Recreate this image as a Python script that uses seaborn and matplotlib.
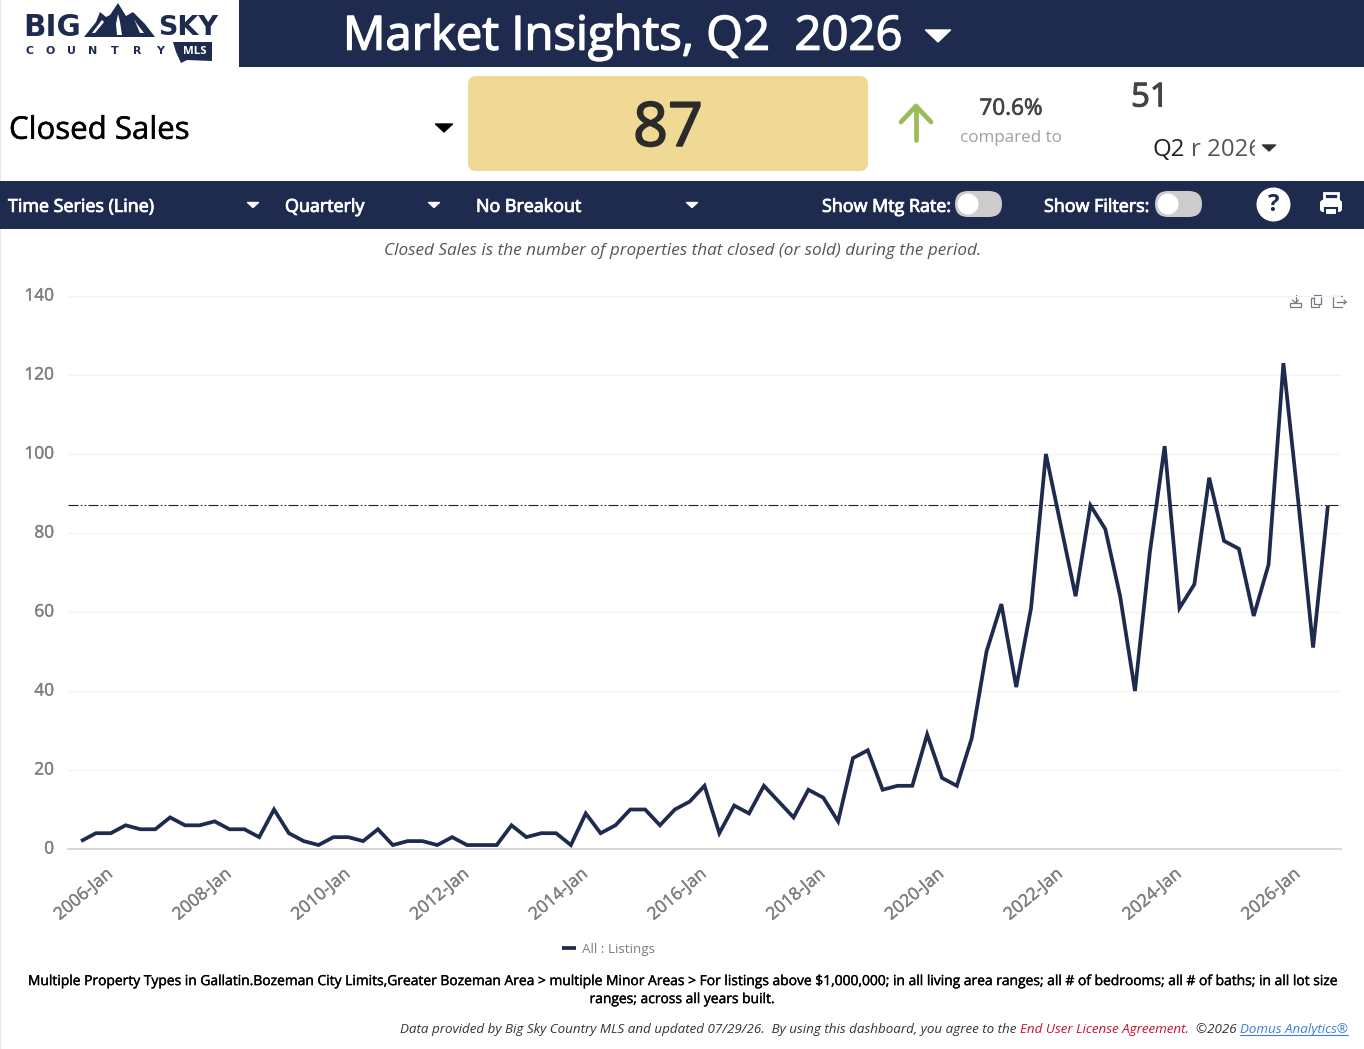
import matplotlib
matplotlib.use("Agg")
import matplotlib.pyplot as plt
import matplotlib.patheffects as pe
from matplotlib.patches import Rectangle, FancyBboxPatch, Polygon, Circle
from matplotlib.transforms import ScaledTranslation
import pandas as pd
import seaborn as sns

# ---- data ----
quarter_labels = [f"{y}-{m}" for y in range(2005, 2027) for m in ("Jan", "Apr", "Jul", "Oct")][1:86]
closed_sales = [2, 4, 4, 6, 5, 5, 8, 6, 6, 7,
                5, 5, 3, 10, 4, 2, 1, 3, 3, 2,
                5, 1, 2, 2, 1, 3, 1, 1, 1, 6,
                3, 4, 4, 1, 9, 4, 6, 10, 10, 6,
                10, 12, 16, 4, 11, 9, 16, 12, 8, 15,
                13, 7, 23, 25, 15, 16, 16, 29, 18, 16,
                28, 50, 62, 41, 61, 100, 82, 64, 87, 81,
                64, 40, 75, 102, 61, 67, 94, 78, 76, 59,
                72, 123, 88, 51, 87]
tick_labels = ["2006-Jan", "2008-Jan", "2010-Jan", "2012-Jan", "2014-Jan", "2016-Jan",
               "2018-Jan", "2020-Jan", "2022-Jan", "2024-Jan", "2026-Jan"]
y_ticks = [0, 20, 40, 60, 80, 100, 120, 140]
current_value = 87
prior_value = 51
pct_change = "70.6%"
series_name = "All : Listings"

NAVY = "#1E2B4F"
W, H = 1364, 1049

sns.set_theme(style="white")
plt.rcParams["font.family"] = ["Open Sans", "DejaVu Sans"]

fig = plt.figure(figsize=(W / 100, H / 100), dpi=100, facecolor="white")

# ---- page furniture, in pixel coordinates ----
ui = fig.add_axes([0, 0, 1, 1], zorder=0)
ui.set_xlim(0, W)
ui.set_ylim(H, 0)
ui.axis("off")


def T(x, y, s, size, color="black", ha="left", va="center", stroke=0, **kw):
    t = ui.text(x, y + 0.6 + size * 0.07, s, fontsize=size * 0.72, color=color, ha=ha, va=va, **kw)
    if stroke:
        t.set_path_effects([pe.withStroke(linewidth=stroke, foreground=color)])
    return t


def tri(x, y, w, h, color):
    ui.add_patch(Polygon([(x - w / 2, y - h / 2), (x + w / 2, y - h / 2), (x, y + h / 2)],
                         closed=True, fc=color, ec=color, lw=1, joinstyle="round"))


def toggle(x, y):
    ui.add_patch(FancyBboxPatch((x, y), 47, 26, boxstyle="round,pad=0,rounding_size=13",
                                fc="#CCCCCC", ec="none", mutation_aspect=1))
    ui.add_patch(Circle((x + 13, y + 13), 10.5, fc="white", ec="none"))


ui.add_patch(Rectangle((0, 0), 1, H, fc="#E6E9EE", ec="none"))
ui.add_patch(Rectangle((239, 0), W - 239, 66.5, fc=NAVY, ec="none"))
ui.add_patch(Rectangle((0, 181), W, 47.5, fc=NAVY, ec="none"))

# logo
ui.text(52, 28, "BIG", fontsize=29.5 * 0.72, color=NAVY, ha="center", va="center", weight="bold", family="DejaVu Sans")
ui.text(188.5, 28, "SKY", fontsize=27 * 0.72, color=NAVY, ha="center", va="center", weight="bold", family="DejaVu Sans")
ui.add_patch(Polygon([(84, 37), (96, 22), (100, 12), (106, 17), (110, 15), (118, 3), (126, 16), (133, 12), (145, 24), (155, 37)],
                     closed=True, fc=NAVY, ec="none"))
for streak in ([(118, 14), (120, 22), (122, 35), (117, 35), (116, 24)],
               [(102, 20), (104, 22), (95, 33), (92, 33)],
               [(134, 19), (137, 24), (144, 33), (140, 33)]):
    ui.add_patch(Polygon(streak, closed=True, fc="white", ec="none"))
for lx, ch in zip([29, 50, 71, 93, 115, 137, 160], "COUNTRY"):
    ui.text(lx, 51, ch, fontsize=11 * 0.72, color=NAVY, ha="center", va="center", weight="bold", family="DejaVu Sans")
ui.add_patch(Polygon([(173, 42), (212, 42), (212, 61), (187, 60), (181, 63), (176, 52)], closed=True, fc=NAVY, ec="none"))
T(195, 50.5, "MLS", 11.5, "white", ha="center", weight="bold")

# header
T(343, 33, "Market Insights, Q2  2026", 47.2, "white", stroke=1.0)
tri(938, 36, 25, 12, "white")

# KPI row
T(9, 128, "Closed Sales", 31.2, "black", stroke=0.35)
tri(444, 128, 17, 8, "black")
ui.add_patch(FancyBboxPatch((468, 76), 400, 95, boxstyle="round,pad=0,rounding_size=8",
                            fc="#F0D895", ec="none"))
T(668, 125, str(current_value), 61, "#2B2B2B", ha="center", stroke=1.2)
ui.plot([916, 916], [140, 107], color="#9BBB59", lw=3.4, solid_capstyle="round")
ui.plot([901, 916, 931], [122, 106, 122], color="#9BBB59", lw=3.4, solid_capstyle="round", solid_joinstyle="round")
T(1011, 107, pct_change, 22.5, "#444444", ha="center", stroke=0.5)
T(1011, 136, "compared to", 17, "#A0A0A0", ha="center")
T(1131, 95, str(prior_value), 33, "#444444", stroke=0.8)
T(1152, 148, "Q2", 24, "#222222")
clip = Rectangle((1180, 130), 75, 36, transform=ui.transData)
t = T(1191, 148, "r 2026", 24, "#555555", clip_on=True)
t.set_clip_path(clip)
tri(1269, 148, 13, 6, "#333333")

# control bar
T(8, 205, "Time Series (Line)", 17.9, "white", stroke=0.6)
tri(253, 205, 11, 5, "white")
T(285, 205, "Quarterly", 17.9, "white", stroke=0.6)
tri(434, 205, 11, 5, "white")
T(476, 205, "No Breakout", 17.9, "white", stroke=0.6)
tri(692, 205, 11, 5, "white")
T(822, 205, "Show Mtg Rate:", 17.9, "white", stroke=0.6)
toggle(955, 191)
T(1044, 205, "Show Filters:", 17.9, "white", stroke=0.6)
toggle(1155, 191)
ui.add_patch(Circle((1273.5, 204.5), 17, fc="white", ec="none"))
T(1273.5, 203, "?", 24, NAVY, ha="center", weight="bold")
ui.add_patch(FancyBboxPatch((1320, 200), 22, 12, boxstyle="round,pad=0,rounding_size=3", fc="white", ec="none"))
ui.add_patch(Rectangle((1324, 193), 14, 6, fc="none", ec="white", lw=2))
ui.add_patch(Rectangle((1325, 208), 12, 7, fc="white", ec=NAVY, lw=1.5))

T(683, 249, "Closed Sales is the number of properties that closed (or sold) during the period.",
  17.1, "#555555", ha="center", style="italic")

# toolbar icons
ic = "#6E7B8B"
ui.plot([1295.5, 1295.5], [295, 303], color=ic, lw=0.9)
ui.plot([1292.5, 1295.5, 1298.5], [300, 303, 300], color=ic, lw=0.9)
ui.add_patch(Rectangle((1290, 303), 11, 4, fc="none", ec=ic, lw=0.9))
ui.add_patch(Rectangle((1311, 298), 8, 9, fc="white", ec=ic, lw=0.9))
ui.add_patch(Rectangle((1314, 295), 7, 9, fc="white", ec=ic, lw=0.9))
ui.plot([1342, 1333, 1333, 1342], [296, 296, 307, 307], color=ic, lw=0.9)
ui.plot([1337, 1346], [302, 302], color=ic, lw=0.9)
ui.plot([1344, 1346, 1344], [300, 302, 304], color=ic, lw=0.9)

# footnotes
T(686, 980, "Multiple Property Types in Gallatin.Bozeman City Limits,Greater Bozeman Area > multiple Minor Areas > "
            "For listings above $1,000,000; in all living area ranges; all # of bedrooms; all # of baths; in all lot size",
  13.84, "black", ha="center", stroke=0.25)
T(682.5, 998, "ranges; across all years built.", 13.84, "black", ha="center", stroke=0.25)

pieces = [("Domus Analytics®", "#3B7DDD"), ("  ©2026 ", "#333333"),
          ("End User License Agreement.", "#C8102E"),
          ("Data provided by Big Sky Country MLS and updated 07/29/26.  By using this dashboard, you agree to the ", "#333333")]
fig.canvas.draw()
renderer = fig.canvas.get_renderer()
right = 1348
for s, c in pieces:
    tt = T(right, 1028, s, 13.42, c, ha="right", style="italic")
    bb = tt.get_window_extent(renderer)
    if s.startswith("Domus"):
        ui.plot([bb.x0, bb.x1], [1034.5, 1034.5], color=c, lw=0.8)
    right -= bb.width

# ---- chart ----
ax_left, ax_right, ax_top, ax_bottom = 68, 1341, 296, 849
ax = fig.add_axes([ax_left / W, 1 - ax_bottom / H, (ax_right - ax_left) / W, (ax_bottom - ax_top) / H], zorder=1)
ax.patch.set_alpha(0)
df = pd.DataFrame({"quarter": quarter_labels, "closed": closed_sales})
sns.lineplot(data=df, x="quarter", y="closed", sort=False, color=NAVY, linewidth=2.7,
             label=series_name, ax=ax, solid_joinstyle="miter", solid_capstyle="butt")
ax.set_xlim(-0.88, 84.88)
ax.set_ylim(0, 140)
ax.axhline(current_value, color="#222222", lw=0.8, linestyle=(0, (9, 2, 1.5, 2, 1.5, 2)), zorder=1.5)
ax.set_yticks(y_ticks)
ax.set_yticklabels([str(v) for v in y_ticks])
ax.set_xticks(tick_labels)
ax.set_xticklabels(tick_labels)
ax.set_xlabel("")
ax.set_ylabel("")
ax.grid(axis="y", color="#F4F4F4", lw=1)
ax.grid(axis="x", visible=False)
ax.set_axisbelow(True)
for side in ("top", "left", "right"):
    ax.spines[side].set_visible(False)
ax.spines["bottom"].set_color("#D4D4D4")
ax.spines["bottom"].set_linewidth(1.3)
ax.tick_params(axis="y", length=0, pad=10, labelsize=12.4, labelcolor="#7F7F7F")
ax.tick_params(axis="x", length=0, pad=0, labelsize=12.5, labelcolor="#7F7F7F")
weight = [pe.withStroke(linewidth=0.3, foreground="#7F7F7F")]
y_off = ScaledTranslation(0, 1.5 / 100, fig.dpi_scale_trans)
for lab in ax.get_yticklabels():
    lab.set_transform(lab.get_transform() + y_off)
    lab.set_path_effects(weight)
off = ScaledTranslation(-19.5 / 100, -17 / 100, fig.dpi_scale_trans)
for lab in ax.get_xticklabels():
    lab.set_rotation(40)
    lab.set_ha("right")
    lab.set_va("top")
    lab.set_rotation_mode("anchor")
    lab.set_transform(lab.get_transform() + off)
    lab.set_path_effects(weight)
leg = ax.legend(loc="center", bbox_to_anchor=(608.5 / W, 1 - 949.5 / H), bbox_transform=fig.transFigure,
                frameon=False, fontsize=9.7, handlelength=1.05, handletextpad=0.5, borderpad=0)
for txt in leg.get_texts():
    txt.set_color("#7F7F7F")

fig.savefig("out.png", dpi=100)
